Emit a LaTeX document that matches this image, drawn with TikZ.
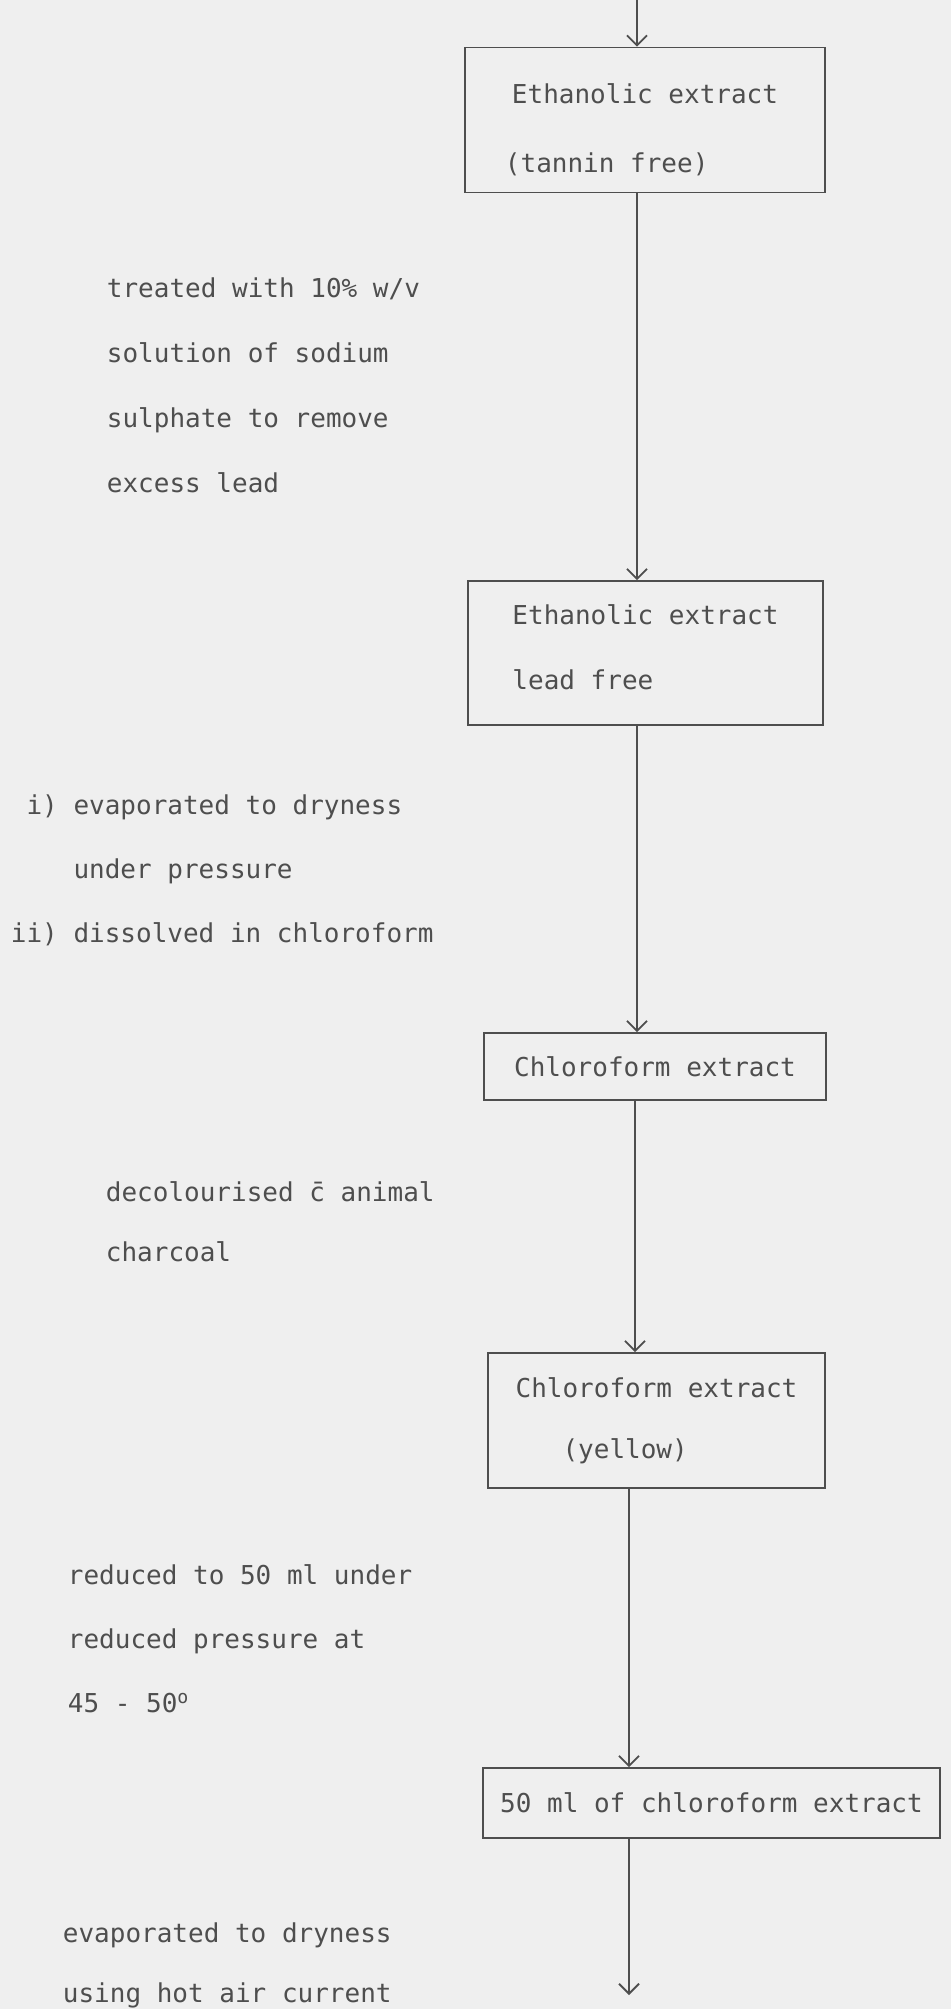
\documentclass[tikz,border=0pt]{standalone}
\usepackage{fontspec}
\setmonofont{DejaVu Sans Mono}
\usetikzlibrary{arrows.meta}
\definecolor{ink}{RGB}{78,78,78}
\definecolor{paper}{RGB}{239,239,239}

\begin{document}
\begin{tikzpicture}[x=0.5pt, y=-0.5pt, line width=0.9pt, color=ink,
	linegap/.style={font=\ttfamily\fontsize{13}{#1}\selectfont},
	linegap=32,
	box/.style={draw, rectangle, inner sep=0pt, align=left},
	note/.style={anchor=base west, inner sep=0pt, align=left},
	flow/.style={-{Straight Barb[length=5pt,width=10pt]}}]
	% the sheet
		\fill[paper] (0,0) rectangle (951,2009);
		\useasboundingbox (0,0) rectangle (951,2009);

	% the extracts
		\node[box, linegap=34.5, minimum width=180pt, minimum height=72.5pt] (tannin) at (645,120) {\rule{0pt}{20pt}Ethanolic extract\\\hspace*{-3.5pt}(tannin free)};
		\node[box, linegap=32.5, minimum width=177.5pt, minimum height=72pt] (leadfree) at (645.5,653) {Ethanolic extract\\lead free\rule[-6pt]{0pt}{6pt}};
		\node[box, minimum width=171pt, minimum height=33.5pt] (chloro) at (655,1066.5) {Chloroform extract};
		\node[box, linegap=30.5, minimum width=168.5pt, minimum height=67.5pt] (yellow) at (656.5,1420.5) {Chloroform extract\\\hphantom{(ye}(yellow)};
		\node[box, minimum width=228.5pt, minimum height=35pt] (fifty) at (711.5,1803) {50 ml of chloroform extract};

	% the arrows down the middle
		\coordinate (inlet) at (637,0);
		\coordinate (spine) at (635,0);
		\coordinate (outlet) at (629,1995);
		\draw[flow] (inlet) -- (tannin.north -| inlet);
		\draw[flow] (tannin.south -| inlet) -- (leadfree.north -| inlet);
		\draw[flow] (leadfree.south -| inlet) -- (chloro.north -| inlet);
		\draw[flow] (chloro.south -| spine) -- (yellow.north -| spine);
		\draw[flow] (yellow.south -| outlet) -- (fifty.north -| outlet);
		\draw[flow] (fifty.south -| outlet) -- (outlet);

	% what is done at each step (placed by the baseline of the last line)
		\node[note, linegap=32.5] (sulphate) at (106,492) {treated with 10\% w/v\\solution of sodium\\sulphate to remove\\excess lead};
		\node[note] (dryness) at (10,942) {\hphantom{i}i) evaporated to dryness\\\hphantom{ii) }under pressure\\ii) dissolved in chloroform};
		\node[note, linegap=30] (charcoal) at (105,1261) {decolourised \={c} animal\\charcoal};
		\node[note] (reduced) at (67,1712) {reduced to 50 ml under\\reduced pressure at\\45 - 50\textsuperscript{o}};
		\node[note, linegap=30] (hotair) at (62,2002) {evaporated to dryness\\using hot air current};
\end{tikzpicture}
\end{document}
